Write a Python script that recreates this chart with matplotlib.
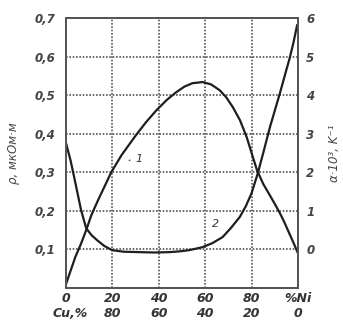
import matplotlib.pyplot as plt

# состав сплава Cu-Ni, % Ni
ni_rho = [0, 2, 4, 6.5, 8.7, 11, 14, 17, 19.5, 24, 30, 34.5, 39, 43.5, 47.6, 51, 54.5, 58.9, 62.5,
          66.2, 69, 71.9, 75, 77.9, 80, 82.3, 85, 87.9, 90, 92.2, 94, 96, 98, 100]
# удельное сопротивление, мкОм·м (кривая 1)
rho = [0.01, 0.045, 0.08, 0.115, 0.15, 0.19, 0.23, 0.268, 0.30, 0.345, 0.395, 0.43, 0.461, 0.488,
       0.508, 0.522, 0.531, 0.534, 0.528, 0.513, 0.495, 0.469, 0.435, 0.391, 0.35, 0.306, 0.27,
       0.240, 0.218, 0.194, 0.172, 0.145, 0.118, 0.09]

ni_alpha = [0, 2, 3.5, 5, 6.5, 8.7, 11, 13.4, 16.5, 19.9, 25, 31.6, 38, 44.6, 49, 53, 56, 58.9,
            63, 67.5, 71, 74.9, 77.5, 80, 82.7, 85, 87.9, 90, 92.2, 94.5, 96.5, 98, 99.6]
# температурный коэффициент, 10^-3 1/K (кривая 2)
alpha = [2.76, 2.3, 1.88, 1.45, 1.02, 0.55, 0.37, 0.24, 0.09, -0.02, -0.06, -0.07, -0.08, -0.07,
         -0.05, -0.02, 0.02, 0.06, 0.16, 0.32, 0.55, 0.84, 1.12, 1.46, 1.98, 2.5, 3.17, 3.6,
         4.05, 4.55, 4.98, 5.35, 5.81]

ni_ticks = [0, 20, 40, 60, 80, 100]
ni_labels = ['0', '20\n80', '40\n60', '60\n40', '80\n20', '%Ni\n0']
rho_ticks = [0.1, 0.2, 0.3, 0.4, 0.5, 0.6, 0.7]
rho_labels = ['0,1', '0,2', '0,3', '0,4', '0,5', '0,6', '0,7']
alpha_ticks = [0, 1, 2, 3, 4, 5, 6]

plt.rcParams['font.family'] = 'DejaVu Sans'
fig = plt.figure(figsize=(3.43, 3.28), dpi=100)
ax = fig.add_axes([0.1924, 0.122, 0.6764, 0.823])
ax2 = ax.twinx()

line_col = '#1e1e1e'
grid_col = '#555555'

ax.plot(ni_rho, rho, color=line_col, lw=1.6)
ax2.plot(ni_alpha, alpha, color=line_col, lw=1.6)

ax.set_xlim(0, 100)
ax.set_ylim(0, 0.7)
ax2.set_ylim(-1, 6)

ax.set_xticks(ni_ticks)
ax.set_xticklabels(ni_labels, fontstyle='italic', fontweight='bold', fontsize=9, color='#333333', linespacing=1.15)
ax.set_yticks(rho_ticks)
ax.set_yticklabels(rho_labels, fontstyle='italic', fontweight='bold', fontsize=8.5, color='#444444')
ax2.set_yticks(alpha_ticks)
ax2.set_yticklabels([str(t) for t in alpha_ticks], fontstyle='italic', fontweight='bold', fontsize=8.5, color='#444444')

ax.tick_params(axis='both', length=0)
ax.tick_params(axis='x', pad=3)
ax.tick_params(axis='y', pad=8)
ax2.tick_params(axis='y', length=0, pad=6)

ax.grid(True, color=grid_col, lw=1.2, linestyle=(0, (1, 1)))
for a in (ax, ax2):
    for s in a.spines.values():
        s.set_color(grid_col)
        s.set_linewidth(1.4)
        s.set_linestyle((0, (1, 1)))

ax.text(2, -0.067, 'Cu,%', fontstyle='italic', fontweight='bold', fontsize=9,
        color='#333333', ha='center', va='center', clip_on=False)

ax.set_ylabel('ρ, мкОм·м', fontstyle='italic', fontsize=8.5, color='#444444', labelpad=10)
ax2.set_ylabel('α·10³, K⁻¹', fontstyle='italic', fontsize=8.5, color='#444444',
               rotation=90, labelpad=10)

# обозначения кривых
ax.annotate('1', xy=(26, 0.33), xytext=(30, 0.335), fontstyle='italic', fontsize=8,
            color='#333333', va='center',
            arrowprops=dict(arrowstyle='-', color='#333333', lw=0.8))
ax.text(63, 0.165, '2', fontstyle='italic', fontsize=8, color='#333333', va='center')

fig.savefig('out.png', dpi=100)
